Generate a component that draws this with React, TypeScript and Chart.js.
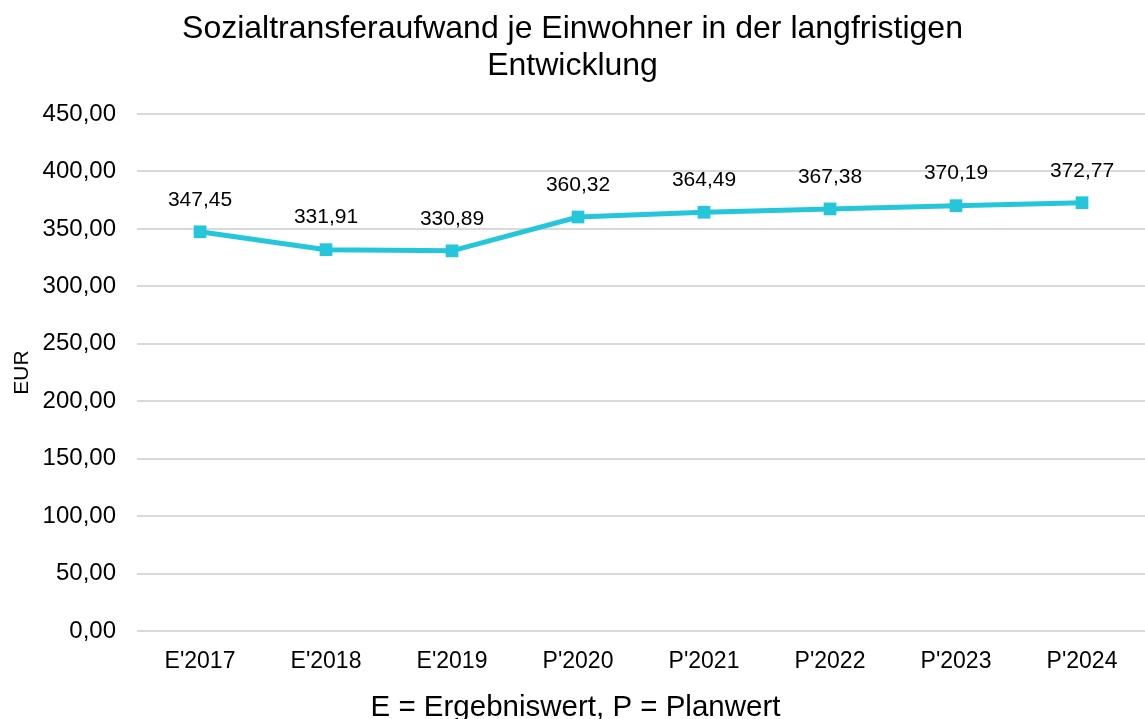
import React, { useEffect, useRef } from "react";
import { Chart, registerables } from "chart.js";

Chart.register(...registerables);

const titleLines = ["Sozialtransferaufwand je Einwohner in der langfristigen", "Entwicklung"];
const categories = ["E'2017", "E'2018", "E'2019", "P'2020", "P'2021", "P'2022", "P'2023", "P'2024"];
const values = [347.45, 331.91, 330.89, 360.32, 364.49, 367.38, 370.19, 372.77];
const yAxisTitle = "EUR";
const xAxisTitle = "E = Ergebniswert, P = Planwert";
const yMin = 0;
const yMax = 450;
const yStep = 50;

const FONT = "'Liberation Sans', Arial, Helvetica, sans-serif";
const LINE_COLOR = "#26C6DA";

const fmt = (v: number) => v.toFixed(2).replace(".", ",");

const dataLabelPlugin = {
  id: "dataLabels",
  afterDatasetsDraw(chart: any) {
    const ctx = chart.ctx;
    const meta = chart.getDatasetMeta(0);
    const ds = chart.data.datasets[0];
    ctx.save();
    ctx.font = `21px ${FONT}`;
    ctx.fillStyle = "#000000";
    ctx.textAlign = "center";
    ctx.textBaseline = "middle";
    meta.data.forEach((pt: any, i: number) => {
      ctx.fillText(fmt(ds.data[i]), pt.x, pt.y - 32);
    });
    ctx.restore();
  },
};

const xTitlePlugin = {
  id: "xTitleCentered",
  afterDraw(chart: any) {
    const ctx = chart.ctx;
    ctx.save();
    ctx.font = `29.5px ${FONT}`;
    ctx.fillStyle = "#000000";
    ctx.textAlign = "center";
    ctx.textBaseline = "alphabetic";
    ctx.fillText(xAxisTitle, chart.width / 2 + 3, chart.height - 3);
    ctx.restore();
  },
};

export default function App() {
  const ref = useRef<HTMLCanvasElement | null>(null);
  useEffect(() => {
    if (!ref.current) return;
    const chart = new Chart(ref.current, {
      type: "line",
      data: {
        labels: categories,
        datasets: [
          {
            data: values,
            borderColor: LINE_COLOR,
            backgroundColor: LINE_COLOR,
            borderWidth: 5,
            pointStyle: "rect",
            pointRadius: 9,
            pointBorderWidth: 0,
            pointBackgroundColor: LINE_COLOR,
            tension: 0,
          },
        ],
      },
      options: {
        animation: false,
        responsive: true,
        maintainAspectRatio: false,
        layout: { autoPadding: false, padding: { left: 0, right: 0, top: 0, bottom: 0 } },
        plugins: {
          legend: { display: false },
          tooltip: { enabled: false },
          title: {
            display: true,
            text: titleLines,
            color: "#000000",
            font: { family: FONT, size: 32, weight: "normal", lineHeight: 1.156 },
            padding: { top: 11, bottom: 29 },
          },
        },
        scales: {
          x: {
            offset: true,
            grid: { display: false, drawTicks: false },
            border: { display: false },
            ticks: {
              color: "#000000",
              font: { family: FONT, size: 23 },
              padding: 17,
              maxRotation: 0,
            },
            afterFit(scale: any) {
              scale.height = 88;
            },
          },
          y: {
            min: yMin,
            max: yMax,
            grid: { color: "#d9d9d9", lineWidth: 2, drawTicks: false },
            border: { display: false },
            ticks: {
              stepSize: yStep,
              color: "#000000",
              font: { family: FONT, size: 24 },
              padding: 21,
              callback: (v: any) => fmt(Number(v)),
            },
            title: {
              display: true,
              text: yAxisTitle,
              color: "#000000",
              font: { family: FONT, size: 21 },
              padding: { top: 10, bottom: 0 },
            },
            afterFit(scale: any) {
              scale.width = 137;
            },
          },
        },
      },
      plugins: [dataLabelPlugin, xTitlePlugin],
    });
    return () => chart.destroy();
  }, []);
  return (
    <div style={{ position: "fixed", left: 0, top: 0, width: 1145, height: 719, background: "#ffffff" }}>
      <canvas ref={ref} />
    </div>
  );
}
